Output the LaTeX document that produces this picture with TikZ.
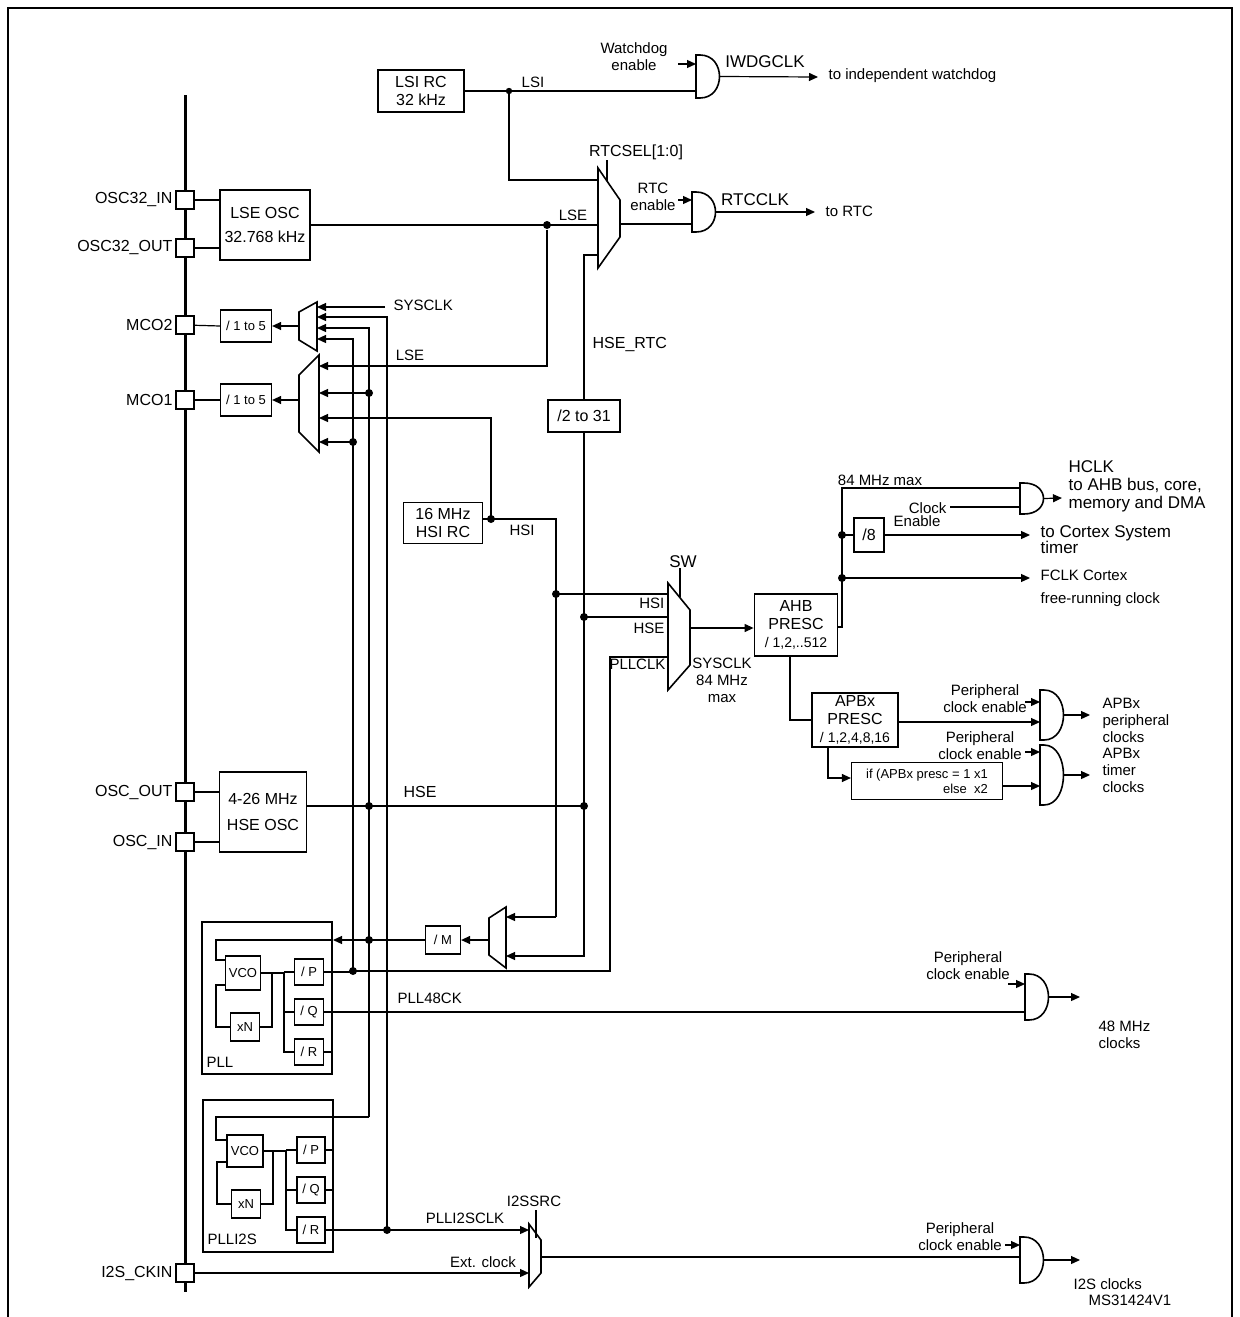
\documentclass[tikz,border=0pt]{standalone}
\usepackage{fontspec}
\setmainfont{Liberation Sans}
\usetikzlibrary{arrows.meta}

\newcommand{\andgate}[4]{% name, x, top, bottom
  \draw[thick] (#2,#3) -- ++(4,0) .. controls +(26,0) and +(26,0) .. (#2+4,#4) -- (#2,#4) -- cycle;
  \coordinate (#1) at (#2+24,{(#3+#4)/2});}

\begin{document}
\begin{tikzpicture}[x=0.5pt,y=-0.5pt,
  font=\fontsize{7.5}{8.5}\selectfont,
  line width=0.6pt,
  >={Triangle[length=4.5pt,width=4pt]},
  box/.style={draw, line width=0.9pt, inner sep=0pt, align=center, font=\fontsize{8}{9}\selectfont},
  small/.style={draw, line width=0.6pt, inner sep=0pt, align=center, font=\fontsize{6.5}{7.5}\selectfont},
  pin/.style={draw, line width=0.7pt, fill=white, minimum size=9pt, inner sep=0pt},
  lbl/.style={inner sep=0pt, align=center},
  dot/.style={circle, fill, inner sep=0pt, minimum size=4pt}]
\useasboundingbox (0,0) rectangle (1240,1317);
\draw (8,1317) -- (8,8) -- (1232,8) -- (1232,1317);

% bus and pins
\draw[line width=1.5pt] (185,95) -- (185,1292);
\foreach \y/\name/\txt in {200/o32in/OSC32\_IN, 248/o32out/OSC32\_OUT, 325/mco2/MCO2, 400/mco1/MCO1,
  792/oscout/OSC\_OUT, 842/oscin/OSC\_IN, 1273/i2sin/I2S\_CKIN}
  {\node[pin] (\name) at (185,\y) {};
   \node[lbl, anchor=east, font=\fontsize{8}{9}\selectfont] at (173,\y) {\txt};}

% oscillators
\node[box, minimum width=45pt, minimum height=35pt] (lse) at (265,225) {LSE OSC\\[3pt]32.768 kHz};
\node[box, minimum width=43pt, minimum height=21pt] (lsi) at (421,91) {LSI RC\\32 kHz};
\node[box, minimum width=39.5pt, minimum height=20.5pt] (hsi) at (443,523) {16 MHz\\HSI RC};
\node[box, minimum width=43.5pt, minimum height=40pt] (hse) at (263,812) {4-26 MHz\\[4pt]HSE OSC};
\draw (o32in) -- (o32in -| lse.west);
\draw (o32out) -- (o32out -| lse.west);
\draw (oscout) -- (oscout -| hse.west);
\draw (oscin) -- (oscin -| hse.west);

% LSI / LSE / RTC
\draw (lsi.east) -- (696,91);
\fill (509,91) circle (1.6pt);
\node[lbl] at (533,82) {LSI};
\draw (509,91) -- (509,180) -- (598,180);
\draw (lse.east) -- (598,225);
\node (lsedot) [dot] at (547,225) {};
\node[lbl] at (573,215) {LSE};
\draw[->] (lsedot) -- (547,366) -- (319,366);
\node[lbl] at (410,355) {LSE};
\draw[thick] (598,168) -- (620,200) -- (620,237) -- (598,268) -- cycle;
\draw (607,160) -- (607,181);
\node[lbl, font=\fontsize{8}{9}\selectfont] at (636,152) {RTCSEL[1:0]};
\draw (598,255) -- (584,255) -- (584,400);
\node[lbl, anchor=west, font=\fontsize{8}{9}\selectfont] at (592,345) {HSE\_RTC};
\node[box, minimum width=36pt, minimum height=16pt] (rtcdiv) at (584,416) {/2 to 31};

\andgate{iwdg}{696}{55}{98}
\draw[->] (678,64) -- (696,64);
\node[lbl] at (634,57) {Watchdog\\enable};
\draw[->] (iwdg) -- (818,77);
\node[lbl, font=\fontsize{8.5}{9}\selectfont] at (765,62) {IWDGCLK};
\node[lbl, anchor=west] at (828,76) {to independent watchdog};

\draw (620,224) -- (692,224);
\andgate{rtc}{692}{192}{232}
\draw[->] (678,200) -- (692,200);
\node[lbl] at (653,197) {RTC\\enable};
\draw[->] (rtc) -- (815,212);
\node[lbl, font=\fontsize{8.5}{9}\selectfont] at (755,200) {RTCCLK};
\node[lbl, anchor=west] at (825,211) {to RTC};

% MCO outputs
\node[small, minimum width=25.5pt, minimum height=16pt] (div2) at (246,326) {/ 1 to 5};
\node[small, minimum width=25.5pt, minimum height=16pt] (div1) at (246,400) {/ 1 to 5};
\draw (mco2) -- (div2.west);
\draw (mco1) -- (div1.west);
\draw[thick] (299,312) -- (317,302) -- (317,351) -- (299,340) -- cycle;
\draw[thick] (299,375) -- (319,355) -- (319,452) -- (299,432) -- cycle;
\draw[->] (299,326) -- (div2.east);
\draw[->] (299,400) -- (div1.east);
\draw[->] (385,307) -- (317,307);
\node[lbl, anchor=west] at (393,305) {SYSCLK};
\draw[->] (387,1230) -- (387,317) -- (317,317);
\draw[->] (369,1117) -- (369,328) -- (317,328);
\draw[->] (353,971) -- (353,339) -- (317,339);
\node[dot] at (369,393) {};
\draw[->] (369,393) -- (319,393);
\node[dot] at (353,442) {};
\draw[->] (353,442) -- (319,442);

% HSI
\draw (hsi.east |- 0,519) -- (556,519) -- (556,917);
\draw[->] (556,917) -- (506,917);
\node[dot] at (491,519) {};
\draw[->] (491,519) -- (491,418) -- (319,418);
\node[lbl] at (522,530) {HSI};
\node[dot] at (556,594) {};
\draw (556,594) -- (668,594);
\node[lbl, anchor=east] at (665,603) {HSI};

% HSE
\draw (hse.east |- 0,806) -- (584,806);
\node[dot] at (369,806) {};
\node[dot] at (584,806) {};
\node[lbl, font=\fontsize{8}{9}\selectfont] at (420,792) {HSE};
\draw[->] (rtcdiv.south) -- (584,956) -- (506,956);
\node[dot] at (584,617) {};
\draw (584,617) -- (668,617);
\node[lbl, anchor=east] at (665,628) {HSE};

% system clock switch
\draw (353,971) -- (610,971) -- (610,657) -- (668,657);
\node[lbl, anchor=east] at (666,664) {PLLCLK};
\draw[thick] (668,583) -- (690,610) -- (690,665) -- (668,690) -- cycle;
\draw (680,568) -- (680,597);
\node[lbl, font=\fontsize{8.5}{9}\selectfont] at (683,562) {SW};
\node[box, minimum width=41.5pt, minimum height=31pt] (ahb) at (796,625) {AHB\\PRESC\\{\fontsize{7}{8}\selectfont / 1,2,..512}};
\draw[->] (690,628) -- (ahb.west |- 0,628);
\node[lbl] at (722,680) {SYSCLK\\84 MHz\\max};

% AHB outputs
\draw (ahb.east |- 0,627) -- (842,627) -- (842,488) -- (1020,488);
\node[lbl] at (880,480) {84 MHz max};
\andgate{hclk}{1020}{483}{514}
\draw (950,507) -- (1020,507);
\node[lbl, anchor=east] at (947,508) {Clock};
\node[lbl] at (917,521) {Enable};
\draw[->] (hclk) -- (1062,498);
\node[lbl, anchor=west, align=left, font=\fontsize{8.5}{9}\selectfont] at (1068,486) {HCLK\\to AHB bus, core,\\memory and DMA};
\node[box, minimum width=15pt, minimum height=17pt] (div8) at (869,535) {/8};
\node[dot] at (842,535) {};
\draw (842,535) -- (div8.west);
\draw[->] (div8.east) -- (1030,535);
\node[lbl, anchor=west, font=\fontsize{8.5}{8}\selectfont, align=left] at (1040,540) {to Cortex System\\timer};
\node[dot] at (842,578) {};
\draw[->] (842,578) -- (1030,578);
\node[lbl, anchor=west, align=left] at (1040,588) {FCLK Cortex\\[3pt]free-running clock};

% APB
\node[box, minimum width=43pt, minimum height=27pt] (apb) at (855,720) {APBx\\PRESC\\{\fontsize{7}{8}\selectfont / 1,2,4,8,16}};
\draw (790,656) -- (790,720) -- (apb.west |- 0,720);
\draw[->] (apb.east |- 0,722) -- (1040,722);
\andgate{apbp}{1040}{690}{740}
\draw[->] (1025,702) -- (1040,702);
\node[lbl] at (985,699) {Peripheral\\clock enable};
\draw[->] (apbp) -- (1090,715);
\node[lbl, anchor=west, align=left] at (1102,720) {APBx\\peripheral\\clocks};
\node[draw, inner sep=0pt, minimum width=75.5pt, minimum height=18.5pt, align=right, font=\fontsize{6.5}{7.5}\selectfont] (tim) at (927,781) {if (APBx presc = 1 x1\\else~~x2};
\draw[->] (828,747) -- (828,778) -- (tim.west |- 0,778);
\draw[->] (tim.east |- 0,786) -- (1040,786);
\andgate{apbt}{1040}{745}{805}
\draw[->] (1025,752) -- (1040,752);
\node[lbl] at (980,746) {Peripheral\\clock enable};
\draw[->] (apbt) -- (1090,775);
\node[lbl, anchor=west, align=left] at (1102,770) {APBx\\timer\\clocks};

% PLL
\node[small, minimum width=17.5pt, minimum height=14pt] (divm) at (443,940) {/ M};
\draw[thick] (489,918) -- (506,907) -- (506,968) -- (489,955) -- cycle;
\draw[->] (489,940) -- (divm.east);
\draw[line width=0.9pt] (202,922) rectangle (332,1074);
\node[lbl, anchor=west] at (206,1062) {PLL};
\draw[->] (divm.west) -- (333,940);
\node[dot] at (369,940) {};
\draw (333,940) -- (216,940) -- (216,960) -- (226,960);
\node[small, minimum width=17.5pt, minimum height=17pt] (vco) at (243,973) {VCO};
\node[small, minimum width=14.5pt, minimum height=14pt] (xn) at (245,1027) {xN};
\node[small, minimum width=14.5pt, minimum height=13pt] (pp) at (309,972) {/ P};
\node[small, minimum width=14.5pt, minimum height=13pt] (pq) at (309,1012) {/ Q};
\node[small, minimum width=14.5pt, minimum height=13pt] (pr) at (309,1052) {/ R};
\draw (226,985) -- (216,985) -- (216,1027) -- (xn.west);
\draw (xn.east) -- (272,1027) -- (272,973) -- (vco.east);
\draw (vco.east) -- (284,973) -- (284,1052) -- (pr.west);
\draw (284,1012) -- (pq.west);
\draw (284,972) -- (pp.west);
\draw (pr.east) -- (332,1052);
\draw (pp.east) -- (353,972);
\node[dot] at (353,971) {};
\draw (pq.east) -- (1025,1012);
\node[lbl, anchor=west] at (397,998) {PLL48CK};
\andgate{usb}{1025}{974}{1020}
\draw[->] (1008,984) -- (1025,984);
\node[lbl] at (968,966) {Peripheral\\clock enable};
\draw[->] (usb) -- (1080,997);
\node[lbl, anchor=west, align=left] at (1098,1035) {48 MHz\\clocks};

% PLLI2S
\draw[line width=0.9pt] (203,1100) rectangle (333,1252);
\node[lbl, anchor=west] at (207,1239) {PLLI2S};
\draw (369,1117) -- (216,1117) -- (216,1140) -- (227,1140);
\node[small, minimum width=18pt, minimum height=16pt] (vcob) at (245,1151) {VCO};
\node[small, minimum width=14.5pt, minimum height=14pt] (xnb) at (246,1204) {xN};
\node[small, minimum width=14pt, minimum height=13pt] (ip) at (311,1150) {/ P};
\node[small, minimum width=14pt, minimum height=13pt] (iq) at (311,1190) {/ Q};
\node[small, minimum width=14pt, minimum height=13pt] (ir) at (311,1230) {/ R};
\draw (227,1162) -- (217,1162) -- (217,1204) -- (xnb.west);
\draw (xnb.east) -- (273,1204) -- (273,1151) -- (vcob.east);
\draw (vcob.east) -- (286,1151) -- (286,1230) -- (ir.west);
\draw (286,1190) -- (iq.west);
\draw (286,1150) -- (ip.west);
\draw (ip.east) -- (333,1150);
\draw (iq.east) -- (333,1190);
\node[dot] at (387,1230) {};
\draw[->] (ir.east) -- (529,1230);
\node[lbl] at (465,1218) {PLLI2SCLK};
\draw[thick] (529,1224) -- (541,1240) -- (541,1273) -- (529,1287) -- cycle;
\draw (536,1210) -- (536,1238);
\node[lbl] at (534,1201) {I2SSRC};
\draw[->] (i2sin) -- (529,1273);
\node[lbl] at (483,1262) {Ext. clock};
\draw (541,1257) -- (1020,1257);
\andgate{i2s}{1020}{1237}{1283}
\draw[->] (1005,1245) -- (1020,1245);
\node[lbl] at (960,1237) {Peripheral\\clock enable};
\draw[->] (i2s) -- (1080,1260);
\node[lbl, anchor=west] at (1073,1284) {I2S clocks};

\node[lbl] at (1130,1300) {MS31424V1};
\end{tikzpicture}
\end{document}
